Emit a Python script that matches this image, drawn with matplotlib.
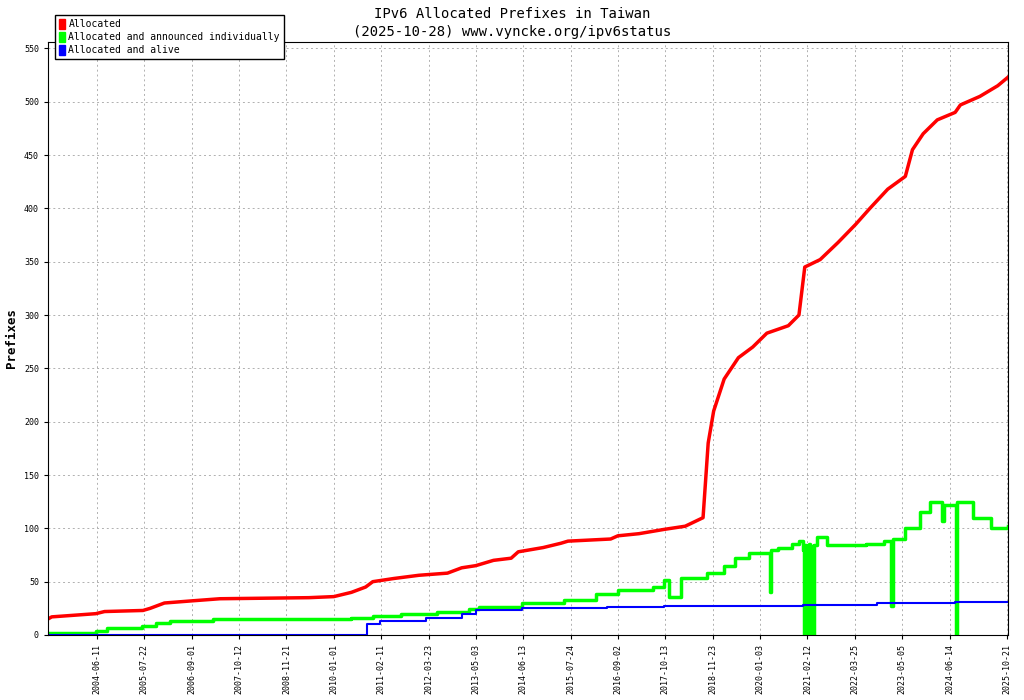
import matplotlib
matplotlib.use("Agg")
import matplotlib.pyplot as plt
from matplotlib.patches import Patch
import numpy as np
import datetime as dt

plt.rcParams['font.family'] = ['DejaVu Sans Mono']

red_dates = ["2003-04-18","2003-05-20","2004-06-01","2004-08-15","2005-07-10","2005-09-10","2006-01-10","2006-09-01","2007-05-01","2009-06-01","2010-01-01","2010-06-01","2010-10-01","2010-12-01","2011-06-01","2012-01-01","2012-09-01","2013-01-01","2013-05-01","2013-10-01","2014-03-01","2014-05-01","2014-12-01","2015-05-01","2015-07-01","2016-07-01","2016-09-01","2017-03-01","2017-10-01","2018-04-01","2018-09-01","2018-10-15","2018-12-01","2019-03-01","2019-07-01","2019-11-01","2020-03-01","2020-09-01","2020-12-01","2021-01-20","2021-06-01","2021-11-01","2022-04-01","2022-08-01","2023-01-01","2023-06-01","2023-08-01","2023-11-01","2024-03-01","2024-08-01","2024-09-15","2025-03-01","2025-08-01","2025-10-28"]
red_vals = [15,17,20,22,23,25,30,32,34,35,36,40,45,50,53,56,58,63,65,70,72,78,82,86,88,90,93,95,99,102,110,180,210,240,260,270,283,290,300,345,352,368,385,400,418,430,455,470,483,490,497,505,515,523]

green_dates = ["2003-04-18","2004-06-01","2004-09-01","2005-07-01","2005-11-01","2006-03-01","2007-03-01","2010-06-01","2010-12-01","2011-08-01","2012-06-01","2013-03-01","2013-06-01","2014-06-01","2015-06-01","2016-03-01","2016-09-01","2017-07-01","2017-10-01","2017-11-10","2018-02-20","2018-10-01","2019-03-01","2019-06-01","2019-10-01","2020-03-25","2020-04-05","2020-06-01","2020-10-01","2020-12-01","2021-01-01","2021-01-10","2021-01-25","2021-02-01","2021-02-25","2021-03-05","2021-03-20","2021-03-28","2021-04-05","2021-05-01","2021-08-01","2022-07-01","2022-12-01","2023-02-01","2023-02-12","2023-06-01","2023-10-01","2024-01-01","2024-04-10","2024-04-25","2024-08-05","2024-08-15","2024-11-01","2025-01-01","2025-06-01","2025-10-28"]
green_vals = [2,4,7,8,11,13,15,16,18,20,22,24,26,30,33,38,42,45,52,36,53,58,65,72,77,40,80,82,85,88,80,0,84,0,85,0,83,0,84,92,84,85,88,27,90,100,115,125,107,122,0,125,125,110,100,102]

blue_dates = ["2003-04-18","2010-09-01","2010-10-15","2011-02-01","2012-03-01","2013-01-01","2013-05-01","2014-06-01","2016-06-01","2017-10-01","2021-01-01","2022-10-01","2024-08-01","2025-10-28"]
blue_vals = [0,0,10,13,16,20,23,25,26,27,28,30,31,31]

def d(lst):
    return [dt.datetime.strptime(s, "%Y-%m-%d") for s in lst]

fig = plt.figure(figsize=(10.24, 7.0), dpi=100)
ax = fig.add_axes([48/1024, 1-635/700, 960/1024, 593/700])
ax.plot(d(red_dates), red_vals, color='#ff0000', lw=2.5)
ax.plot(d(green_dates), green_vals, color='#00ff00', lw=2.5, drawstyle='steps-post')
ax.plot(d(blue_dates), blue_vals, color='#0000ff', lw=1.5, drawstyle='steps-post')

start = dt.datetime(2003, 4, 18)
end = dt.datetime(2025, 10, 28)
ax.set_xlim(start, end)
ax.set_ylim(0, 556)
ax.set_yticks(np.arange(0, 551, 50))
tick0 = dt.datetime(2004, 6, 11)
ticks = [tick0 + dt.timedelta(days=406*i) for i in range(20)]
ticks = [t for t in ticks if t <= end - dt.timedelta(days=200)] + [dt.datetime(2025, 10, 21)]
ax.set_xticks(ticks)
ax.set_xticklabels([t.strftime("%Y-%m-%d") for t in ticks], rotation=90, fontsize=6)
ax.tick_params(axis='y', labelsize=6)
ax.tick_params(length=3)
ax.grid(True, linestyle=(0, (2, 3)), color='#b0b0b0', lw=0.7)
ax.set_ylabel("Prefixes", fontsize=9, fontweight='bold')
fig.text(0.5, 0.980, "IPv6 Allocated Prefixes in Taiwan", ha='center', va='center', fontsize=10)
fig.text(0.5, 0.954, "(2025-10-28) www.vyncke.org/ipv6status", ha='center', va='center', fontsize=10)
handles = [Patch(color='#ff0000'), Patch(color='#00ff00'), Patch(color='#0000ff')]
fig.legend(handles, ["Allocated", "Allocated and announced individually", "Allocated and alive"],
           loc='upper left', bbox_to_anchor=(50/1024, 1-10/700), fontsize=7,
           fancybox=False, framealpha=1, edgecolor='black', handlelength=0.6, handleheight=1.2,
           handletextpad=0.4, borderpad=0.4, labelspacing=0.3)
fig.savefig("out.png", dpi=100)
